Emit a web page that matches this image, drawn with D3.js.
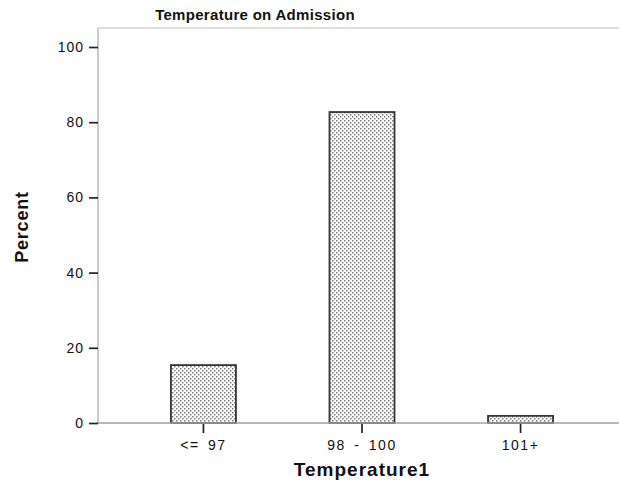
<!DOCTYPE html>
<html>
<head>
<meta charset="utf-8">
<script src="https://cdn.jsdelivr.net/npm/d3@7/dist/d3.min.js"></script>
<style>
  html, body { margin: 0; padding: 0; background: #fff; }
  svg { display: block; }
  text { font-family: "Liberation Sans", Arial, sans-serif; fill: #111; }
</style>
</head>
<body>
<svg id="chart" width="619" height="492"></svg>
<script>
const categories = ["<= 97", "98 - 100", "101+"];
const percents = [15.4, 82.7, 1.9];
const yTicks = [0, 20, 40, 60, 80, 100];
const chartTitle = "Temperature on Admission";
const xTitle = "Temperature1";
const yTitle = "Percent";

(function () {
const svg = d3.select("#chart");
const W = 619, H = 492;
const mLeft = 98, mBottom = 423, mTop = 28;

const y = d3.scaleLinear().domain([0, 100]).range([mBottom, 47]);
const x = d3.scaleBand().domain(categories).range([mLeft, 626]).paddingInner(0.59).paddingOuter(0.46);

// dotted pattern
const defs = svg.append("defs");
const pat = defs.append("pattern").attr("id", "dots").attr("patternUnits", "userSpaceOnUse")
  .attr("width", 4).attr("height", 4);
pat.append("rect").attr("width", 4).attr("height", 4).attr("fill", "#fff");
pat.append("rect").attr("x", 0).attr("y", 0).attr("width", 1.5).attr("height", 1.5).attr("fill", "#7c7c7c");
pat.append("rect").attr("x", 2).attr("y", 2).attr("width", 1.5).attr("height", 1.5).attr("fill", "#7c7c7c");

// frame
svg.append("line").attr("x1", mLeft).attr("x2", W).attr("y1", mTop).attr("y2", mTop)
  .attr("stroke", "#d4d4d4").attr("stroke-width", 1.5);
svg.append("line").attr("x1", mLeft).attr("x2", mLeft).attr("y1", mTop).attr("y2", mBottom)
  .attr("stroke", "#b8b8b8").attr("stroke-width", 1.5);

// bars
svg.append("g").selectAll("rect").data(categories).join("rect")
  .attr("x", d => x(d))
  .attr("width", x.bandwidth())
  .attr("y", (d, i) => y(percents[i]))
  .attr("height", (d, i) => y(0) - y(percents[i]))
  .attr("fill", "url(#dots)")
  .attr("stroke", "#333")
  .attr("stroke-width", 1.8);

// x axis line
svg.append("line").attr("x1", mLeft).attr("x2", W).attr("y1", mBottom).attr("y2", mBottom)
  .attr("stroke", "#a0a0a0").attr("stroke-width", 1.5);

// y axis
const yAxis = d3.axisLeft(y).tickValues(yTicks).tickSize(9).tickPadding(5).tickFormat(d3.format("d"));
const gy = svg.append("g").attr("transform", `translate(${mLeft},0)`).call(yAxis);
gy.select(".domain").remove();
gy.selectAll(".tick line").attr("stroke", "#222").attr("stroke-width", 1.7);
gy.selectAll(".tick text").attr("font-size", 14).attr("fill", "#111")
  .attr("font-family", "Liberation Sans, Arial, sans-serif").style("letter-spacing", "1px");

// x axis
const xAxis = d3.axisBottom(x).tickSize(9).tickPadding(7);
const gx = svg.append("g").attr("transform", `translate(0,${mBottom + 1})`).call(xAxis);
gx.select(".domain").remove();
gx.selectAll(".tick line").attr("stroke", "#222").attr("stroke-width", 1.7);
gx.selectAll(".tick text").attr("font-size", 14).attr("fill", "#111")
  .attr("font-family", "Liberation Sans, Arial, sans-serif").style("letter-spacing", "1.5px").style("word-spacing", "3px");

// titles
svg.append("text").attr("x", 255).attr("y", 20).attr("text-anchor", "middle")
  .attr("font-size", 15).attr("font-weight", "bold").style("letter-spacing", "0.3px").text(chartTitle);
svg.append("text").attr("x", 362).attr("y", 476).attr("text-anchor", "middle")
  .attr("font-size", 19).attr("font-weight", "bold").style("letter-spacing", "1px").text(xTitle);
svg.append("text").attr("transform", "translate(28,227) rotate(-90)").attr("text-anchor", "middle")
  .attr("font-size", 18).attr("font-weight", "bold").style("letter-spacing", "0.8px").text(yTitle);
})();
</script>
</body>
</html>
